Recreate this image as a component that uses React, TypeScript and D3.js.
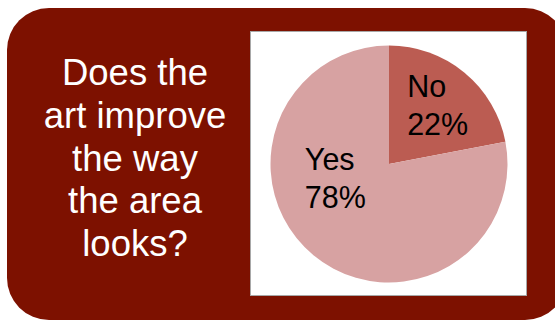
import React from "react";
import * as d3 from "d3";

const categories = ["No", "Yes"];
const values = [22, 78];
const sliceColors = ["#BB5C52", "#D7A2A2"];
const titleLines = ["Does the", "art improve", "the way", "the area", "looks?"];
// label nudges relative to slice centroid (px)
const labelNudge: [number, number][] = [
  [-29, 0],
  [-37, -41],
];

export default function App() {
  const W = 555;
  const H = 320;
  const cx = 389;
  const cy = 164;
  const r = 118.5;

  const pie = d3
    .pie<number>()
    .sort(null)
    .value((d) => d)
    .startAngle(0)
    .endAngle(2 * Math.PI);
  const arcs = pie(values);
  const arc = d3.arc<d3.PieArcDatum<number>>().innerRadius(0).outerRadius(r);
  const labelArc = d3
    .arc<d3.PieArcDatum<number>>()
    .innerRadius(74)
    .outerRadius(74);
  const total = d3.sum(values);
  const font = "'Liberation Sans', Arial, Helvetica, sans-serif";

  return (
    <svg
      width={W}
      height={H}
      style={{ position: "absolute", left: 0, top: 0 }}
      viewBox={`0 0 ${W} ${H}`}
    >
      <rect x={0} y={0} width={W} height={H} fill="#ffffff" />
      <rect x={7} y={8} width={560} height={312} rx={42} ry={42} fill="#7D1100" />
      <rect
        x={250.5}
        y={31.5}
        width={276}
        height={264}
        fill="#ffffff"
        stroke="#A8A8A8"
        strokeWidth={1}
      />
      <g transform={`translate(${cx},${cy})`}>
        {arcs.map((a, i) => (
          <path key={categories[i]} d={arc(a) || ""} fill={sliceColors[i]} />
        ))}
        {arcs.map((a, i) => {
          const [lx, ly] = labelArc.centroid(a);
          const x = lx + labelNudge[i][0];
          const y = ly + labelNudge[i][1];
          const pct = Math.round((values[i] / total) * 100) + "%";
          return (
            <text
              key={"l" + i}
              x={x}
              y={y}
              textAnchor="start"
              fontFamily={font}
              fontSize={30.5}
              fill="#000000"
            >
              <tspan x={x} dy={-10}>
                {categories[i]}
              </tspan>
              <tspan x={x} dy={38}>
                {pct}
              </tspan>
            </text>
          );
        })}
      </g>
      <text
        fontFamily={font}
        fontSize={36.5}
        fill="#ffffff"
        textAnchor="middle"
      >
        {titleLines.map((t, i) => (
          <tspan key={t} x={135} y={85 + i * 42.8}>
            {t}
          </tspan>
        ))}
      </text>
    </svg>
  );
}
